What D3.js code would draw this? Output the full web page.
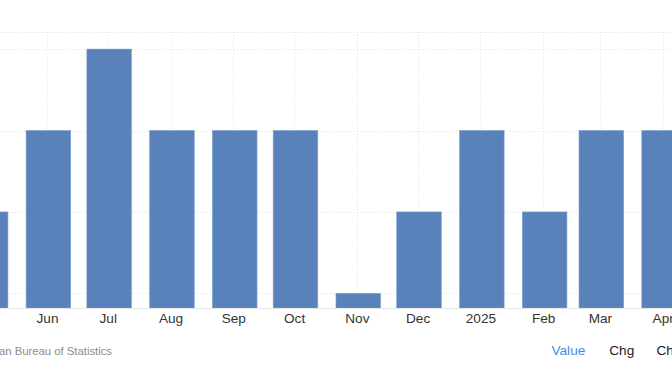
<!DOCTYPE html>
<html><head><meta charset="utf-8">
<script src="https://cdn.jsdelivr.net/npm/d3@7"></script>
<style>body{margin:0;background:#fff}svg{display:block}</style>
</head><body>
<svg id="c" width="672" height="372"></svg>
<script>
const months = ["2024-05","2024-06","2024-07","2024-08","2024-09","2024-10","2024-11","2024-12","2025-01","2025-02","2025-03","2025-04"];
const tickLabels = ["May","Jun","Jul","Aug","Sep","Oct","Nov","Dec","2025","Feb","Mar","Apr"];
const values = [4.0,4.1,4.2,4.1,4.1,4.1,3.9,4.0,4.1,4.0,4.1,4.1];
const gridValues = [3.9,4.0,4.1,4.2];
const legendItems = ["Value","Chg","Chg%"];

const parse = d3.timeParse("%Y-%m");
const dates = months.map(parse);
const svg = d3.select("#c");

const x = d3.scaleTime().domain([parse("2024-06"), parse("2025-04")]).range([47, 662.7]);
const y = d3.scaleLinear().domain([3.882, 4.221]).range([308, 32]);
const barW = 44.6, barOff = 1.4;

// horizontal grid
const g = svg.append("g");
g.selectAll("line.h").data(gridValues.concat([y.invert(32)])).join("line")
  .attr("x1",0).attr("x2",672).attr("y1",d=>Math.round(y(d))+0.5).attr("y2",d=>Math.round(y(d))+0.5)
  .attr("stroke","#e3e3e3").attr("stroke-dasharray","1,2");
// vertical grid
g.selectAll("line.v").data(dates).join("line")
  .attr("x1",d=>Math.round(x(d))+0.5).attr("x2",d=>Math.round(x(d))+0.5)
  .attr("y1",32).attr("y2",308)
  .attr("stroke","#e3e3e3").attr("stroke-dasharray","1,2");

// bars
svg.append("g").selectAll("rect").data(values).join("rect")
  .attr("x",(d,i)=>x(dates[i])+barOff-barW/2)
  .attr("width",barW)
  .attr("y",d=>y(d))
  .attr("height",d=>y.range()[0]-y(d))
  .attr("fill","#5a82ba")
  .attr("stroke","#7e9ecb").attr("stroke-width",0.6);

// baseline
svg.append("line").attr("x1",0).attr("x2",672).attr("y1",308.5).attr("y2",308.5).attr("stroke","#e6e6e6");

// x axis labels (the first month lies outside the visible area)
const visible = dates.slice(1);
const xAxis = d3.axisBottom(x).tickValues(visible).tickFormat((d,i)=>tickLabels[i+1]).tickSize(0).tickPadding(0);
const ax = svg.append("g").attr("transform","translate(0,310)").call(xAxis);
ax.select(".domain").remove();
ax.selectAll("text").attr("dy","0").attr("y",12.6)
  .attr("font-family","Liberation Sans, Arial, sans-serif").attr("font-size",13.6).attr("fill","#333");

// source
svg.append("text").attr("x",112).attr("y",354.5).attr("text-anchor","end")
  .attr("font-family","Liberation Sans, Arial, sans-serif").attr("font-size",11.3).attr("fill","#8c8c8c")
  .text("Source: Australian Bureau of Statistics");

// legend
const lx = [551.5, 609.3, 656.5];
svg.append("g").selectAll("text").data(legendItems).join("text")
  .attr("x",(d,i)=>lx[i]).attr("y",355)
  .attr("font-family","Liberation Sans, Arial, sans-serif").attr("font-size",13.6)
  .attr("fill",(d,i)=>i===0?"#3d8fe6":"#222")
  .text(d=>d);
</script>
</body></html>
